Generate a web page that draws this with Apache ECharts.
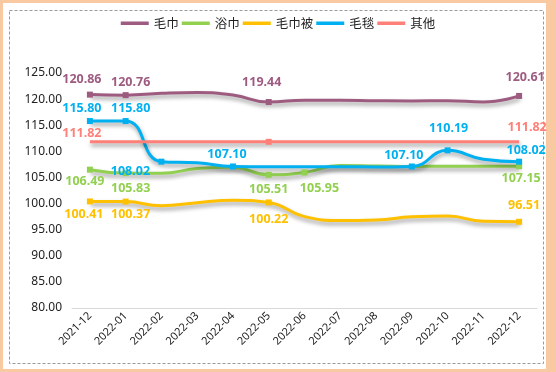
<!DOCTYPE html>
<html><head><meta charset="utf-8">
<script src="https://cdn.jsdelivr.net/npm/echarts@6/dist/echarts.min.js"></script>
<style>
html,body{margin:0;padding:0;width:556px;height:372px;overflow:hidden;background:#F9C9A2;}
#bg{position:absolute;left:3px;top:3px;width:543px;height:366px;background:#fff;}
#chart{position:absolute;left:0;top:0;width:556px;height:372px;}
</style></head>
<body><div id="bg"></div><div id="chart"></div>
<script>
// ---- data ----
const categories = ['2021-12','2022-01','2022-02','2022-03','2022-04','2022-05','2022-06','2022-07','2022-08','2022-09','2022-10','2022-11','2022-12'];
const seriesNames = ['毛巾','浴巾','毛巾被','毛毯','其他'];
const towel     = [120.86,120.76,121.1,121.25,120.8,119.44,119.8,119.8,119.7,119.65,119.7,119.45,120.61];
const bathTowel = [106.49,105.83,105.8,106.7,106.95,105.51,105.95,107.3,107.2,107.1,107.15,107.15,107.15];
const towelQuilt= [100.41,100.37,99.6,100.15,100.65,100.22,97.5,96.75,96.85,97.45,97.6,96.6,96.51];
const blanket   = [115.80,115.80,108.02,107.8,107.10,107.05,107.05,107.05,107.0,107.10,110.19,108.5,108.02];
const other     = [111.82,111.82,111.82,111.82,111.82,111.82,111.82,111.82,111.82,111.82,111.82,111.82,111.82];
const yTicks = [80,85,90,95,100,105,110,115,120,125];

// ---- styling (marker / label placement) ----
const colors = ['#9E5B80','#92D050','#FFC000','#00B0F0','#FF8078'];
// index -> [showMarker, labelOffset or null]
const marks = [
  {0:[1,[-8,-15]],1:[1,[5,-13]],5:[1,[-7,-20]],12:[1,[6,-18]]},
  {0:[1,[-5,12]],1:[1,[5,15]],5:[1,[0,15]],6:[1,[15,16]],12:[1,[2,12]]},
  {0:[1,[-6,13]],1:[1,[5,13]],5:[1,[0,17]],12:[1,[5,-16]]},
  {0:[1,[-8,-13]],1:[1,[5,-13]],2:[1,[-31,10]],4:[1,[-6,-12]],9:[1,[-8,-11]],10:[1,[1,-22]],12:[1,[7,-11]]},
  {0:[0,[-8,-8]],5:[1,null],12:[0,[8,-14]]}
];
const values = [towel,bathTowel,towelQuilt,blanket,other];

const series = values.map((arr,si)=>({
  name: seriesNames[si],
  type:'line',
  smooth:0.5,
  symbol:'rect',
  symbolSize:6,
  showSymbol:true,
  color: colors[si],
  lineStyle:{width:3,color:colors[si],shadowColor:'rgba(0,0,0,0.4)',shadowBlur:4,shadowOffsetY:3,shadowOffsetX:1},
  itemStyle:{color:colors[si]},
  label:{show:false},
  data: arr.map((v,i)=>{
    const m = marks[si][i];
    const item = {value:v};
    if(!m){ item.symbol='none'; return item; }
    if(!m[0]){ item.symbolSize=1; item.itemStyle={color:'rgba(0,0,0,0)'}; }
    if(m[1]){
      item.label={show:true,position:'inside',offset:m[1],formatter:(p)=>p.value.toFixed(2),
        color:colors[si],fontSize:12.5,fontWeight:'bold',fontFamily:'Noto Sans'};
    }
    return item;
  })
}));

const chart = echarts.init(document.getElementById('chart'),null,{renderer:'canvas'});
chart.setOption({
  animation:false,
  backgroundColor:'transparent',
  graphic:[{type:'rect',shape:{x:9.5,y:10.5,width:534,height:353},
    style:{fill:'none',stroke:'#9a9a9a',lineWidth:1,lineDash:[3,2]},silent:true}],
  legend:{
    top:12,left:'center',icon:'rect',itemWidth:28,itemHeight:3.5,itemGap:3,
    data:seriesNames,
    textStyle:{fontSize:12.5,color:'#222',fontFamily:'Noto Sans CJK SC'}
  },
  grid:{left:72,right:19,top:73,bottom:64,containLabel:false},
  xAxis:{
    type:'category',data:categories,boundaryGap:true,
    axisLine:{lineStyle:{color:'#d9d9d9',width:1}},
    axisTick:{show:false},
    axisLabel:{rotate:45,margin:6,fontSize:11,color:'#222',fontFamily:'Noto Sans',interval:0}
  },
  yAxis:{
    type:'value',min:yTicks[0],max:yTicks[yTicks.length-1],interval:5,
    axisLine:{show:false},axisTick:{show:false},splitLine:{show:false},
    axisLabel:{fontSize:12,color:'#222',fontFamily:'Noto Sans',margin:10,formatter:v=>v.toFixed(2)}
  },
  series:series
});
</script></body></html>
